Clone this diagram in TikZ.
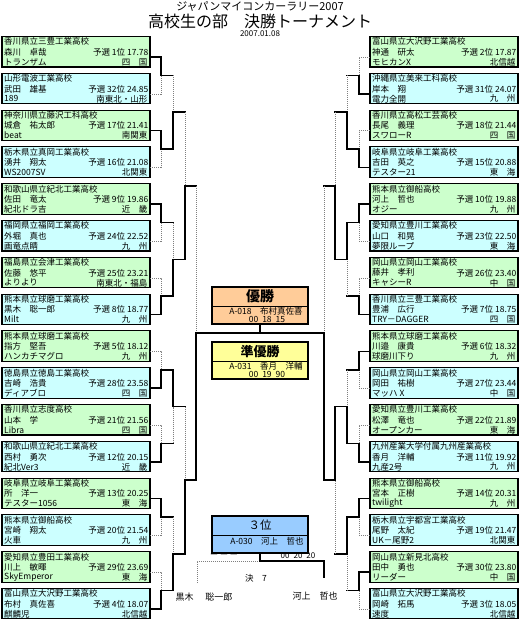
\documentclass[tikz,border=0pt]{standalone}
\usepackage{fontspec}
\setmainfont{Noto Sans CJK JP}
\usetikzlibrary{calc}
\definecolor{gfill}{HTML}{CCFFCC}
\definecolor{cfill}{HTML}{CCFFFF}
\definecolor{ofill}{HTML}{FFCC99}
\definecolor{yfill}{HTML}{FFFF99}
\definecolor{bfill}{HTML}{99CCFF}
\definecolor{dgray}{HTML}{7F7F7F}
\tikzset{
  entry/.style={draw=black, line width=1.1pt, minimum width=148pt, minimum height=30.5pt, inner sep=0pt, outer sep=0pt, anchor=north west},
  prize/.style={draw=black, line width=1.1pt, minimum width=96pt, minimum height=37pt, inner sep=0pt, outer sep=0pt},
  win/.style={line width=1.6pt, black, line cap=rect},
  lose/.style={line width=0.6pt, dgray, dash pattern=on 1pt off 1pt},
  txt/.style={font=\fontsize{8.5}{9}\selectfont, inner sep=0pt},
  sm/.style={font=\fontsize{8.5}{9}\selectfont, inner sep=0pt},
}
\begin{document}
\begin{tikzpicture}[x=1pt,y=-1pt]
\useasboundingbox (0,0) rectangle (520,619);
% title
\node[font=\fontsize{11}{11}\selectfont, inner sep=0pt] (t1) at (260,6.5) {ジャパンマイコンカーラリー2007};
\node[font=\fontsize{16}{16}\selectfont, inner sep=0pt] (t2) at (260,21.5) {高校生の部　決勝トーナメント};
\node[font=\fontsize{8}{8}\selectfont, inner sep=0pt] (t3) at (260,34) {2007.01.08};

% junction coordinates
\foreach \r/\xl/\xr in {1/161/359,2/173/347,3/185/335,4/196/324}{
  \pgfmathtruncatemacro\cnt{16/2^\r}
  \foreach \m in {1,...,\cnt}{
    \pgfmathsetmacro\yy{57+((\m-1)*2^\r+(2^\r+1)/2-1)*36.8}
    \coordinate (JL\r\m) at (\xl,\yy);
    \coordinate (JR\r\m) at (\xr,\yy);
  }
}

% left entries
\foreach \i/\sch/\nm/\rk/\car/\reg in {
1/香川県立三豊工業高校/森川　卓哉/予選 1位 17.78/トランザム/四　国,
2/山形電波工業高校/武田　雄基/予選 32位 24.85/189/南東北・山形,
3/神奈川県立藤沢工科高校/城倉　祐太郎/予選 17位 21.41/beat/南関東,
4/栃木県立真岡工業高校/湧井　翔太/予選 16位 21.08/WS2007SV/北関東,
5/和歌山県立紀北工業高校/佐田　竜太/予選 9位 19.86/紀北ドラ吉/近　畿,
6/福岡県立福岡工業高校/外堀　真也/予選 24位 22.52/画竜点睛/九　州,
7/福島県立会津工業高校/佐藤　悠平/予選 25位 23.21/よりより/南東北・福島,
8/熊本県立球磨工業高校/黒木　聡一郎/予選 8位 18.77/Milt/九　州,
9/熊本県立球磨工業高校/指方　堅吾/予選 5位 18.12/ハンカチマグロ/九　州,
10/徳島県立徳島工業高校/吉崎　浩貴/予選 28位 23.58/ディアブロ/四　国,
11/香川県立志度高校/山本　学/予選 21位 21.56/Libra/四　国,
12/和歌山県立紀北工業高校/西村　勇次/予選 12位 20.15/紀北Ver3/近　畿,
13/岐阜県立岐阜工業高校/所　洋一/予選 13位 20.25/テスター1056/東　海,
14/熊本県立御船高校/宮崎　翔太/予選 20位 21.54/火車/九　州,
15/愛知県立豊田工業高校/川上　敏暉/予選 29位 23.69/SkyEmperor/東　海,
16/富山県立大沢野工業高校/布村　真佐喜/予選 4位 18.07/麒麟児/北信越}{
  \pgfmathsetmacro\ty{36.5+(\i-1)*36.8}
  \ifodd\i \def\fc{gfill}\else\def\fc{cfill}\fi
  \node[entry, fill=\fc] (L\i) at (2,\ty) {};
  \node[txt, anchor=west] (L\i a) at (4,\ty+5.2) {\sch};
  \node[txt, anchor=west] (L\i b) at (4,\ty+15.5) {\nm};
  \node[txt, anchor=east] (L\i c) at (148.5,\ty+15.5) {\rk};
  \node[txt, anchor=west] (L\i d) at (4,\ty+25.5) {\car};
  \node[txt, anchor=east] (L\i e) at (147.5,\ty+25.5) {\reg};
  \coordinate (Lc\i) at ($(L\i.north east)+(0,20.5)$);
}

% right entries
\foreach \i/\sch/\nm/\rk/\car/\reg in {
1/富山県立大沢野工業高校/神通　研太/予選 2位 17.87/モヒカンX/北信越,
2/沖縄県立美来工科高校/岸本　翔/予選 31位 24.07/電力全開/九　州,
3/香川県立高松工芸高校/長尾　義理/予選 18位 21.44/スワローR/四　国,
4/岐阜県立岐阜工業高校/吉田　英之/予選 15位 20.88/テスター21/東　海,
5/熊本県立御船高校/河上　哲也/予選 10位 19.88/オジー/九　州,
6/愛知県立豊川工業高校/山口　和晃/予選 23位 22.50/夢限ループ/東　海,
7/岡山県立岡山工業高校/藤井　孝利/予選 26位 23.40/キャシーR/中　国,
8/香川県立三豊工業高校/豊浦　広行/予選 7位 18.75/TRY－DAGGER/四　国,
9/熊本県立球磨工業高校/川邉　康貴/予選 6位 18.32/球磨川下り/九　州,
10/岡山県立岡山工業高校/岡田　祐樹/予選 27位 23.44/マッハ X/中　国,
11/愛知県立豊川工業高校/松澤　竜也/予選 22位 21.89/オープンカー/東　海,
12/九州産業大学付属九州産業高校/香月　洋輔/予選 11位 19.92/九産2号/九　州,
13/熊本県立御船高校/宮本　正樹/予選 14位 20.31/twilight/九　州,
14/栃木県立宇都宮工業高校/尾野　太紀/予選 19位 21.47/UK－尾野2/北関東,
15/岡山県立新見北高校/田中　勇也/予選 30位 23.80/リーダー/中　国,
16/富山県立大沢野工業高校/岡崎　拓馬/予選 3位 18.05/速度/北信越}{
  \pgfmathsetmacro\ty{36.5+(\i-1)*36.8}
  \ifodd\i \def\fc{gfill}\else\def\fc{cfill}\fi
  \node[entry, fill=\fc] (R\i) at (370,\ty) {};
  \node[txt, anchor=west] (R\i a) at (372,\ty+5.2) {\sch};
  \node[txt, anchor=west] (R\i b) at (372,\ty+15.5) {\nm};
  \node[txt, anchor=east] (R\i c) at (516.5,\ty+15.5) {\rk};
  \node[txt, anchor=west] (R\i d) at (372,\ty+25.5) {\car};
  \node[txt, anchor=east] (R\i e) at (515.5,\ty+25.5) {\reg};
  \coordinate (Rc\i) at ($(R\i.north west)+(0,20.5)$);
}

% ---- bracket: round 1 (w = 1 upper entry wins, 2 lower entry wins)
\foreach \m/\w in {1/1,2/1,3/1,4/2,5/2,6/2,7/1,8/2}{
  \pgfmathtruncatemacro\a{2*\m-2+\w}
  \pgfmathtruncatemacro\b{2*\m+1-\w}
  \draw[lose] (Lc\b) -| (JL1\m);
  \draw[win] (Lc\a) -| (JL1\m);
}
\foreach \m/\w in {1/2,2/2,3/1,4/2,5/1,6/2,7/1,8/1}{
  \pgfmathtruncatemacro\a{2*\m-2+\w}
  \pgfmathtruncatemacro\b{2*\m+1-\w}
  \draw[lose] (Rc\b) -| (JR1\m);
  \draw[win] (Rc\a) -| (JR1\m);
}
% ---- later rounds
\foreach \r/\m/\w in {2/1/2,2/2/2,2/3/1,2/4/2,3/1/2,3/2/2,4/1/2}{
  \pgfmathtruncatemacro\p{\r-1}
  \pgfmathtruncatemacro\a{2*\m-2+\w}
  \pgfmathtruncatemacro\b{2*\m+1-\w}
  \draw[win] (JL\p\b) -- (JL\p\b -| JL\r\m);
  \draw[lose] (JL\p\b -| JL\r\m) -- (JL\r\m);
  \draw[win] (JL\p\a) -- (JL\p\a -| JL\r\m) -- (JL\r\m);
}
\foreach \r/\m/\w in {2/1/2,2/2/1,2/3/2,2/4/1,3/1/2,3/2/1,4/1/2}{
  \pgfmathtruncatemacro\p{\r-1}
  \pgfmathtruncatemacro\a{2*\m-2+\w}
  \pgfmathtruncatemacro\b{2*\m+1-\w}
  \draw[win] (JR\p\b) -- (JR\p\b -| JR\r\m);
  \draw[lose] (JR\p\b -| JR\r\m) -- (JR\r\m);
  \draw[win] (JR\p\a) -- (JR\p\a -| JR\r\m) -- (JR\r\m);
}

% ---- centre boxes
\node[prize, fill=ofill] (champ) at (260,305.5) {};
\draw[line width=0.8pt] ($(champ.north west)+(0,19)$) -- ($(champ.north east)+(0,19)$);
\node[font=\bfseries\fontsize{14}{14}\selectfont, inner sep=0pt] (champT) at (260,296.5) {優勝};
\node[sm] (champA) at (266,311.5) {A-018　布村真佐喜};
\node[sm] (champB) at (267,319.5) {00\hspace{4pt}18\hspace{4pt}15};

\node[prize, fill=yfill] (runner) at (260,360.5) {};
\draw[line width=0.8pt] ($(runner.north west)+(0,19)$) -- ($(runner.north east)+(0,19)$);
\node[font=\bfseries\fontsize{13}{13}\selectfont, inner sep=0pt] (runnerT) at (260,351.5) {準優勝};
\node[sm] (runnerA) at (266,366) {A-031　香月　洋輔};
\node[sm] (runnerB) at (267,374.5) {00\hspace{4pt}19\hspace{4pt}90};

\node[prize, fill=bfill] (third) at (260,534.5) {};
\draw[line width=0.8pt] ($(third.north west)+(0,19)$) -- ($(third.north east)+(0,19)$);
\node[font=\fontsize{11.5}{11.5}\selectfont, inner sep=0pt] (thirdT) at (260,525.5) {３位};
\node[sm] (thirdA) at (267,541) {A-030　河上　哲也};

% final line
\draw[win] (JL41) -- (JR41);
\draw[win] (champ.south) -- (champ.south |- JL41);

% third place match
\coordinate (T3) at (260,561);
\coordinate (T3L) at (197,583);
\coordinate (T3R) at (324,577);
\draw[lose] (T3) -| (T3L);
\draw[win] (third.south) -- (T3) -| (T3R);
\node[font=\fontsize{8}{8}\selectfont, inner sep=0pt] (sc1) at (224,556) {ー ー ー};
\node[font=\fontsize{8}{8}\selectfont, inner sep=0pt] (sc2) at (298,555.5) {00\hspace{4pt}20\hspace{4pt}20};
\node[font=\fontsize{8.5}{9}\selectfont, inner sep=0pt] (kes) at (256,578) {決　7};
\node[font=\fontsize{9}{9}\selectfont, inner sep=0pt] (nL) at (204,597) {黒木\hspace{12pt}聡一郎};
\node[font=\fontsize{9}{9}\selectfont, inner sep=0pt] (nR) at (315,596) {河上　哲也};
\end{tikzpicture}
\end{document}
